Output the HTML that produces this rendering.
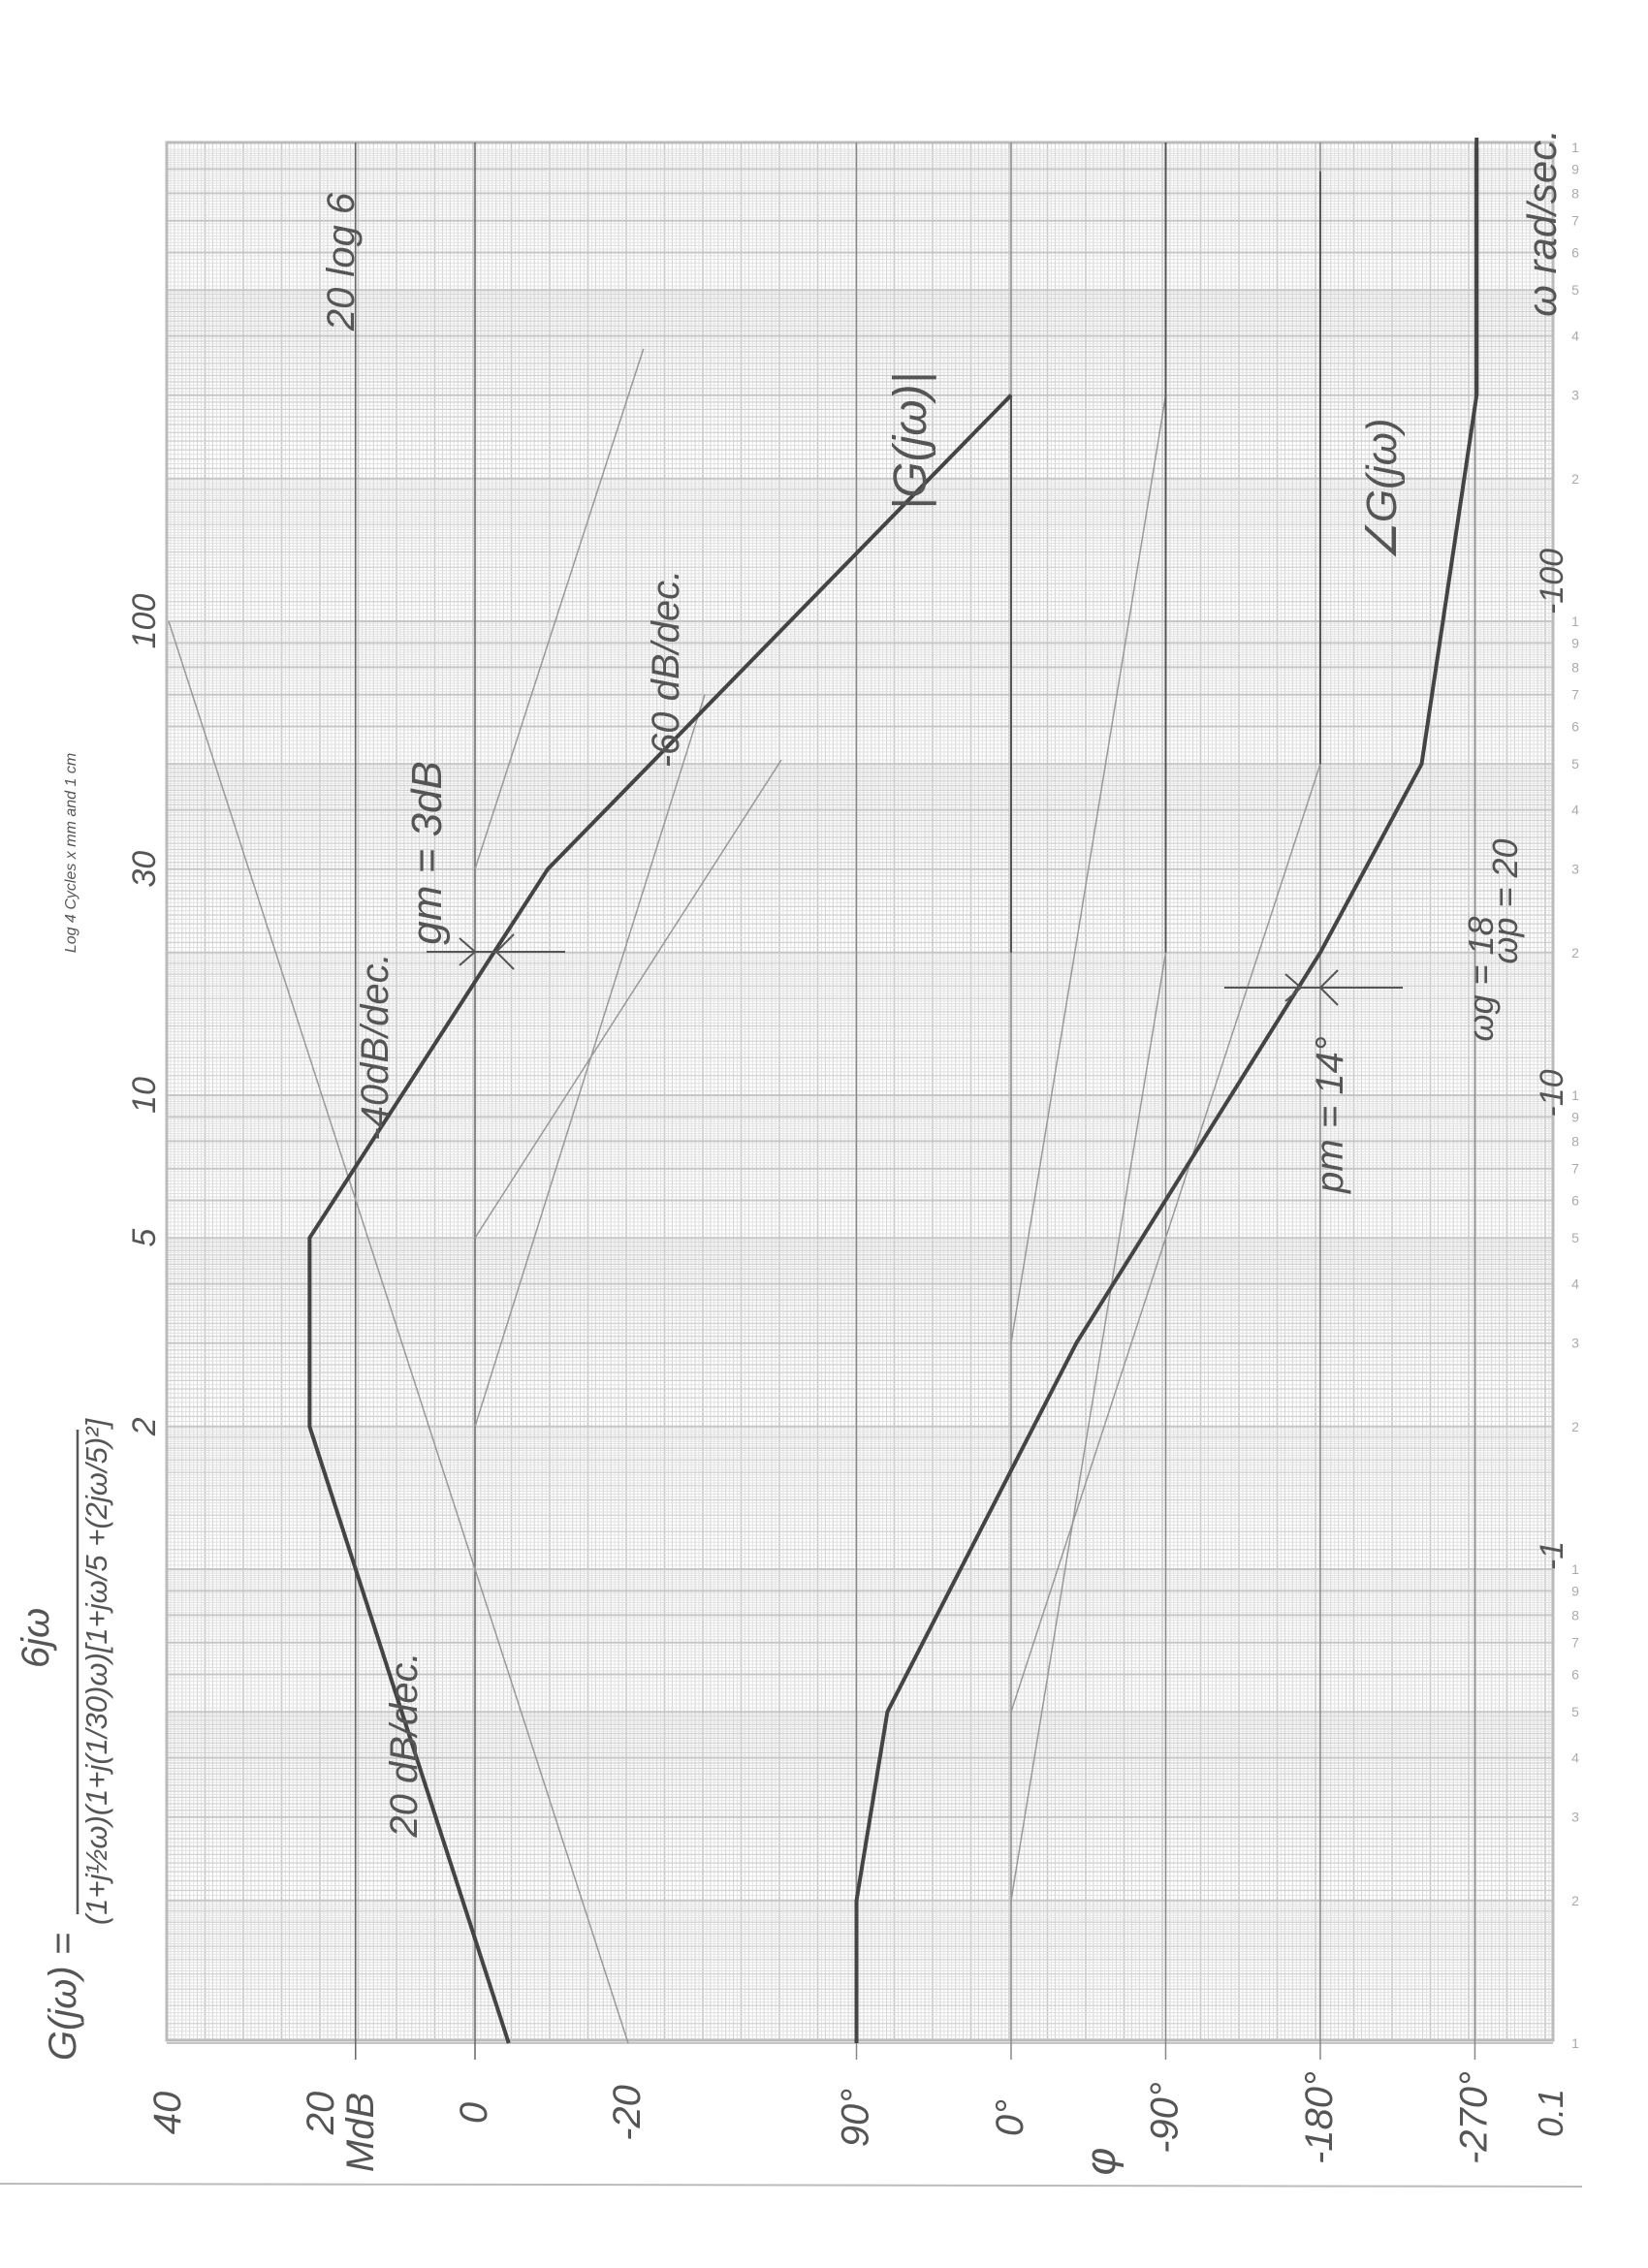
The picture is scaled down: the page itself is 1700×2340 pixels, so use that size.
<!DOCTYPE html>
<html><head><meta charset="utf-8"><style>
html,body{margin:0;padding:0;background:#fff}
svg{display:block}
.hand{font-family:"Liberation Sans",sans-serif;fill:#555;font-style:italic}
</style></head><body>
<svg id="chart" width="1700" height="2340" viewBox="0 0 1700 2340" xmlns="http://www.w3.org/2000/svg">
<rect x="0" y="0" width="1700" height="2340" fill="#fff"/>
<g id="grid"></g>
<g id="refs"></g>
<g id="series"></g>
<g id="labels"></g>
<line x1="0" y1="2253" x2="1632" y2="2256" stroke="#bbb" stroke-width="2"/>
</svg>
<script>
// ---- data ----
const magFreq = [0.1, 2, 5, 30, 300];
const magDb = [-4.4, 21.6, 21.6, -9.5, -70];
const phFreq = [0.1, 0.2, 0.5, 3, 20, 50, 300, 1000];
const phDeg = [90, 90, 72, -38, -180, -239, -271, -271];
const magAsymW1 = [0.1, 2, 5, 30];
const magAsymD1 = [-20, 0, 0, 0];
const magAsymW2 = [100, 70, 51, 376];
const magAsymD2 = [40, -30, -40, -22];
const phAsymW1 = [0.2, 0.5, 3];
const phAsymP1 = [0, 0, 0];
const phAsymW2 = [20, 50, 300];
const phAsymP2 = [-90, -180, -90];
const dbRefLines = [15.6, 0];
const degRefLines = [90, 0, -90, -180, -270];
const freqLabels = ["100", "30", "10", "5", "2"];
const freqLabelVals = [100, 30, 10, 5, 2];
const dbTickLabels = ["40", "20", "0", "-20"];
const dbTickVals = [40, 20, 0, -20];
const degTickLabels = ["90°", "0°", "-90°", "-180°", "-270°"];
const degTickVals = [90, 0, -90, -180, -270];

// ---- axes ----
const GL = 172, GR = 1602, GT = 147, GB = 2105;
const yW = w => 1619 - Math.log10(w) * 489;
const xDb = d => 490 - d * 7.9;
const xDeg = p => 1043 - p * 1.772;
const NS = "http://www.w3.org/2000/svg";
function mk(tag, attrs, parent) {
  const e = document.createElementNS(NS, tag);
  for (const k in attrs) e.setAttribute(k, attrs[k]);
  parent.appendChild(e);
  return e;
}
const grid = document.getElementById('grid');
const refs = document.getElementById('refs');
const series = document.getElementById('series');
const labels = document.getElementById('labels');

for (let i = 0, x = GL; x <= GR + 0.5; i++, x = GL + i * 3.95) {
  const major = i % 10 === 0, mid = i % 2 === 0;
  const l = mk('line', {x1: x, y1: GT, x2: x, y2: GB, stroke: major ? '#c6c6c6' : (mid ? '#d2d2d2' : '#e4e4e4'), 'stroke-width': major ? 1.6 : 1}, grid);
  
  
}
for (let d = -1; d < 3; d++) {
  const base = Math.pow(10, d);
  const steps = [];
  for (let m = 1; m < 2 - 1e-9; m += 0.02) steps.push(m);
  for (let m = 2; m < 5 - 1e-9; m += 0.05) steps.push(m);
  for (let m = 5; m < 10 - 1e-9; m += 0.1) steps.push(m);
  steps.forEach((m) => {
    const y = yW(base * m);
    const isInt = Math.abs(m - Math.round(m)) < 1e-6;
    const isHalf = Math.abs(m * 10 - Math.round(m * 10)) < 1e-6 && m < 5;
    const l = mk('line', {x1: GL, y1: y, x2: GR, y2: y, stroke: isInt ? '#c6c6c6' : (isHalf ? '#d2d2d2' : '#e0e0e0'), 'stroke-width': isInt ? 2 : (isHalf ? 1.3 : 1)}, grid);
    
    
  });
  for (let k = 1; k <= 9; k++) {
    const t = mk('text', {x: 1625, y: yW(base * k) + 5, 'font-size': 14, fill: '#aaa', 'font-family': 'Liberation Sans, sans-serif', 'text-anchor': 'middle'}, labels);
    t.textContent = k;
    
    
  }
}
const t1 = mk('text', {x: 1625, y: yW(1000) + 5, 'font-size': 14, fill: '#aaa', 'font-family': 'Liberation Sans, sans-serif', 'text-anchor': 'middle'}, labels);
t1.textContent = '1';


const border = mk('rect', {x: GL, y: GT, width: GR - GL, height: GB - GT, fill: 'none', stroke: '#bbb', 'stroke-width': 3}, grid);



dbRefLines.forEach(d => {
  const l = mk('line', {x1: xDb(d), y1: GT, x2: xDb(d), y2: GB + 20, stroke: '#666', 'stroke-width': 1.5}, refs);
  
  
});
degRefLines.forEach(p => {
  const l = mk('line', {x1: xDeg(p), y1: GT, x2: xDeg(p), y2: GB + 20, stroke: '#888', 'stroke-width': 1.5}, refs);
  
  
});
magAsymW1.forEach((w, i) => {
  const l = mk('line', {x1: xDb(magAsymD1[i]), y1: yW(w), x2: xDb(magAsymD2[i]), y2: yW(magAsymW2[i]), stroke: '#999', 'stroke-width': 1.5}, refs);
  
  
});
phAsymW1.forEach((w, i) => {
  const l = mk('line', {x1: xDeg(phAsymP1[i]), y1: yW(w), x2: xDeg(phAsymP2[i]), y2: yW(phAsymW2[i]), stroke: '#999', 'stroke-width': 1.5}, refs);
  
  
});
const v1 = mk('line', {x1: xDeg(-90), y1: yW(20), x2: xDeg(-90), y2: GT, stroke: '#555', 'stroke-width': 2}, refs);


const v2 = mk('line', {x1: xDeg(-180), y1: yW(50), x2: xDeg(-180), y2: yW(890), stroke: '#555', 'stroke-width': 2}, refs);


const v3 = mk('line', {x1: xDeg(0), y1: yW(20), x2: xDeg(0), y2: yW(300), stroke: '#555', 'stroke-width': 2}, refs);



const magPath = mk('polyline', {points: magFreq.map((w, i) => xDb(magDb[i]) + ',' + yW(w)).join(' '), fill: 'none', stroke: '#444', 'stroke-width': 4, 'stroke-linejoin': 'round'}, series);


const phPath = mk('polyline', {points: phFreq.map((w, i) => xDeg(phDeg[i]) + ',' + yW(w)).join(' '), fill: 'none', stroke: '#444', 'stroke-width': 4, 'stroke-linejoin': 'round'}, series);


const phTop = mk('line', {x1: xDeg(-271), y1: yW(300), x2: xDeg(-271), y2: GT - 5, stroke: '#444', 'stroke-width': 4}, series);



function marker(x1, x2, y, ax1, ax2, name) {
  const g = mk('g', {stroke: '#555', 'stroke-width': 2, fill: 'none'}, series);
  
  
  mk('line', {x1: x1, y1: y, x2: x2, y2: y}, g);
  mk('polyline', {points: (ax1 - 16) + ',' + (y - 14) + ' ' + ax1 + ',' + y + ' ' + (ax1 - 16) + ',' + (y + 14)}, g);
  mk('polyline', {points: (ax2 + 18) + ',' + (y - 18) + ' ' + ax2 + ',' + y + ' ' + (ax2 + 18) + ',' + (y + 18)}, g);
}
marker(440, 583, 982, 490, 512, 'gain-margin-arrows');
marker(1263, 1447, 1019, 1342, 1362, 'phase-margin-arrows');

function rt(txt, x, y, size, name, fill) {
  const t = mk('text', {x: x, y: y, 'font-size': size, 'text-anchor': 'middle', 'class': 'hand', transform: 'rotate(-90 ' + x + ' ' + y + ')'}, labels);
  if (fill) t.setAttribute('fill', fill);
  t.textContent = txt;
  
  
  return t;
}
freqLabels.forEach((s, i) => rt(s, 160, yW(freqLabelVals[i]), 34, 'frequency-label'));
dbTickLabels.forEach((s, i) => rt(s, xDb(dbTickVals[i]) + 12, 2180, 40, 'db-tick-label'));
degTickLabels.forEach((s, i) => rt(s, xDeg(degTickVals[i]) + 12, 2185, 40, 'phase-tick-label'));
rt('0.1', 1612, 2180, 36, 'frequency-start-label');
rt('MdB', 385, 2200, 40, 'magnitude-axis-title');
rt('φ', 1150, 2230, 44, 'phase-axis-title');
rt('ω rad/sec.', 1605, 230, 42, 'frequency-axis-title');
rt('-100', 1612, 600, 34, 'right-decade-label');
rt('-10', 1612, 1128, 34, 'right-decade-label');
rt('-1', 1612, 1605, 34, 'right-decade-label');
rt('20 log 6', 365, 270, 40, 'annotation-20log6');
rt('|G(jω)|', 955, 455, 48, 'annotation-magnitude');
rt('∠G(jω)', 1440, 505, 44, 'annotation-phase');
rt('-60 dB/dec.', 700, 690, 40, 'annotation-60db');
rt('gm = 3dB', 455, 880, 44, 'annotation-gain-margin');
rt('-40dB/dec.', 400, 1080, 40, 'annotation-40db');
rt('20 dB/dec.', 430, 1800, 40, 'annotation-20db');
rt('pm = 14°', 1385, 1150, 40, 'annotation-phase-margin');
rt('ωg = 18', 1540, 1010, 36, 'annotation-wg');
rt('ωp = 20', 1565, 930, 36, 'annotation-wp');
rt('Log 4 Cycles x mm and 1 cm', 78, 880, 16, 'paper-caption', '#aaa');
rt('6jω', 50, 1690, 40, 'formula-numerator');
const bar = mk('line', {x1: 80, y1: 1475, x2: 80, y2: 1975, stroke: '#555', 'stroke-width': 2.5}, labels);


rt('(1+j½ω)(1+j(1/30)ω)[1+jω/5 +(2jω/5)²]', 110, 1725, 31, 'formula-denominator');
rt('G(jω) =', 78, 2060, 40, 'formula-lhs');
</script>
</body></html>
